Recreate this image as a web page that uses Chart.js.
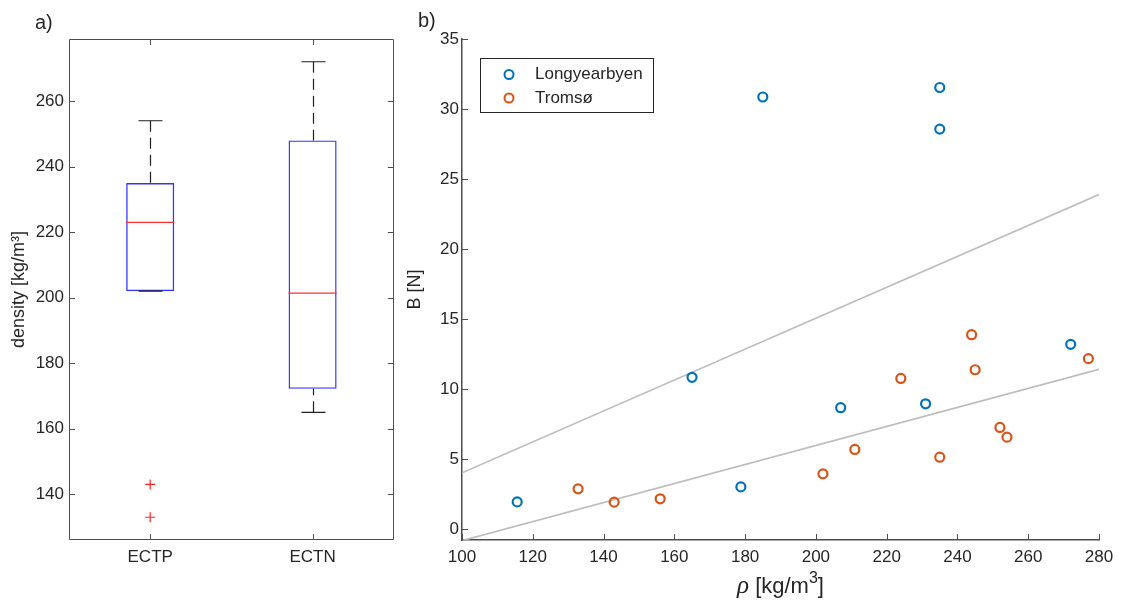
<!DOCTYPE html>
<html>
<head>
<meta charset="utf-8">
<script src="https://cdn.jsdelivr.net/npm/chart.js@4.4.0/dist/chart.umd.min.js"></script>
<style>
  body { margin: 0; background: #fff; }
  #wrap { position: relative; width: 1123px; height: 603px; font-family: 'Liberation Sans', Arial, sans-serif; color: #262626; }
  canvas { position: absolute; top: 0; }
  #boxCanvas { left: 0; }
  #scatterCanvas { left: 400px; }
  .tag { position: absolute; font-size: 20px; line-height: 20px; }
</style>
</head>
<body>
<div id="wrap">
  <canvas id="boxCanvas" width="400" height="603"></canvas>
  <canvas id="scatterCanvas" width="723" height="603"></canvas>
  <div class="tag" style="left:35px;top:12px">a)</div>
  <div class="tag" style="left:418px;top:10px">b)</div>
</div>
<script>
// a) density per test result
const categories = ['ECTP', 'ECTN'];
const q1 = [202, 172.2];
const medians = [223, 201.4];
const q3 = [235, 248];
const whiskerLow = [202, 165];
const whiskerHigh = [254, 272];
const outliers = [[143, 133], []];
const densityTicks = [140, 160, 180, 200, 220, 240, 260];

// b) B against density, per site
const rhoLongyearbyen = [115.6, 165, 178.8, 185, 207, 231, 235, 235, 272];
const bLongyearbyen = [1.97, 10.86, 3.04, 30.86, 8.69, 8.97, 31.54, 28.57, 13.21];
const rhoTromso = [132.8, 143, 156, 202, 211, 224, 235, 244, 245, 252, 254, 277];
const bTromso = [2.9, 1.95, 2.19, 3.97, 5.71, 10.78, 5.16, 13.9, 11.4, 7.28, 6.59, 12.19];
const fitRho = [100, 280];
const fitUpper = [4.04, 23.9];
const fitLower = [-0.8, 11.43];
const rhoTicks = [100, 120, 140, 160, 180, 200, 220, 240, 260, 280];
const bTicks = [0, 5, 10, 15, 20, 25, 30, 35];

const ink = '#262626';
const blue = '#0072BD';
const orange = '#D95319';

Chart.defaults.font.family = "'Liberation Sans', Arial, sans-serif";
Chart.defaults.color = ink;
Chart.defaults.animation = false;

// tick marks pointing into the plot, optional full frame
const innerTicks = {
  id: 'innerTicks',
  afterDraw(chart, args, o) {
    const { ctx, chartArea: a, scales: { x, y } } = chart;
    const len = o.length || 6;
    ctx.save();
    ctx.strokeStyle = o.color;
    ctx.lineWidth = 1;
    ctx.beginPath();
    if (o.frame) ctx.rect(Math.round(a.left) + 0.5, Math.round(a.top) + 0.5, Math.round(a.width) - 1, Math.round(a.height) - 1);
    x.ticks.forEach((t, i) => {
      const px = Math.round(x.getPixelForTick(i)) + 0.5;
      ctx.moveTo(px, a.bottom); ctx.lineTo(px, a.bottom - len);
      if (o.frame) { ctx.moveTo(px, a.top); ctx.lineTo(px, a.top + len); }
    });
    y.ticks.forEach((t, i) => {
      const py = Math.round(y.getPixelForTick(i)) + 0.5;
      ctx.moveTo(a.left, py); ctx.lineTo(a.left + len, py);
      if (o.frame) { ctx.moveTo(a.right, py); ctx.lineTo(a.right - len, py); }
    });
    ctx.stroke();
    ctx.restore();
  }
};

// whiskers, caps and medians on top of the floating bars
const boxWhiskers = {
  id: 'boxWhiskers',
  afterDatasetsDraw(chart) {
    const { ctx, scales: { y } } = chart;
    const bars = chart.getDatasetMeta(0).data;
    ctx.save();
    bars.forEach((bar, i) => {
      const cx = Math.round(bar.x) + 0.5;
      const half = bar.width / 2;
      const cap = bar.width / 4;
      const yq1 = y.getPixelForValue(q1[i]);
      const yq3 = y.getPixelForValue(q3[i]);
      const ylo = y.getPixelForValue(whiskerLow[i]);
      const yhi = y.getPixelForValue(whiskerHigh[i]);
      ctx.strokeStyle = '#1f1f1f';
      ctx.lineWidth = 1.2;
      ctx.setLineDash([11, 6]);
      ctx.beginPath();
      ctx.moveTo(cx, yhi); ctx.lineTo(cx, yq3);
      if (ylo > yq1 + 1) { ctx.moveTo(cx, ylo); ctx.lineTo(cx, yq1); }
      ctx.stroke();
      ctx.setLineDash([]);
      ctx.beginPath();
      ctx.moveTo(cx - cap, yhi); ctx.lineTo(cx + cap, yhi);
      ctx.moveTo(cx - cap, ylo); ctx.lineTo(cx + cap, ylo);
      ctx.stroke();
      const ym = y.getPixelForValue(medians[i]);
      ctx.strokeStyle = '#ff3030';
      ctx.beginPath();
      ctx.moveTo(bar.x - half, ym); ctx.lineTo(bar.x + half, ym);
      ctx.stroke();
    });
    ctx.restore();
  }
};

// legend with a box around it, inside the plot
const boxedLegend = {
  id: 'boxedLegend',
  afterDraw(chart, args, o) {
    const { ctx } = chart;
    ctx.save();
    ctx.fillStyle = '#fff';
    ctx.fillRect(o.x, o.y, o.w, o.h);
    ctx.strokeStyle = ink;
    ctx.lineWidth = 1;
    ctx.strokeRect(o.x + 0.5, o.y + 0.5, o.w, o.h);
    ctx.font = "17px 'Liberation Sans', Arial, sans-serif";
    ctx.textBaseline = 'middle';
    chart.data.datasets.filter(d => !d.showLine).forEach((d, i) => {
      const cy = o.y + 16.5 + i * 23.5;
      ctx.strokeStyle = d.borderColor;
      ctx.lineWidth = 2;
      ctx.beginPath();
      ctx.arc(o.x + 29, cy, 4.5, 0, Math.PI * 2);
      ctx.stroke();
      ctx.fillStyle = ink;
      ctx.fillText(d.label, o.x + 55, cy);
    });
    ctx.restore();
  }
};

// x title with an italic rho and a raised exponent
const rhoTitle = {
  id: 'rhoTitle',
  afterDraw(chart) {
    const { ctx, chartArea: a } = chart;
    const parts = [
      { t: 'ρ', f: "italic 25px 'Liberation Serif', serif", dy: 0 },
      { t: ' [kg/m', f: "22px 'Liberation Sans', Arial, sans-serif", dy: 0 },
      { t: '3', f: "16px 'Liberation Sans', Arial, sans-serif", dy: -10 },
      { t: ']', f: "22px 'Liberation Sans', Arial, sans-serif", dy: 0 }
    ];
    ctx.save();
    ctx.fillStyle = ink;
    ctx.textBaseline = 'alphabetic';
    let total = 0;
    parts.forEach(p => { ctx.font = p.f; p.w = ctx.measureText(p.t).width; total += p.w; });
    let px = (a.left + a.right) / 2 - total / 2;
    parts.forEach(p => { ctx.font = p.f; ctx.fillText(p.t, px, 593 + p.dy); px += p.w; });
    ctx.restore();
  }
};

new Chart(document.getElementById('boxCanvas'), {
  type: 'bar',
  data: {
    labels: categories,
    datasets: [
      {
        data: categories.map((c, i) => [q1[i], q3[i]]),
        backgroundColor: 'rgba(0,0,0,0)',
        borderColor: '#3333ff',
        borderWidth: 1.4,
        borderSkipped: false,
        barPercentage: 0.296,
        categoryPercentage: 1
      },
      {
        type: 'scatter',
        data: categories.flatMap((c, i) => outliers[i].map(v => ({ x: c, y: v }))),
        pointStyle: 'cross',
        pointRadius: 5,
        borderColor: '#ff2020',
        borderWidth: 1.2
      }
    ]
  },
  options: {
    responsive: false,
    layout: { padding: { left: 0, top: 39, right: 5, bottom: 0 } },
    plugins: {
      legend: { display: false },
      tooltip: { enabled: false },
      innerTicks: { color: '#4d4d4d', frame: true, length: 6 }
    },
    scales: {
      x: {
        grid: { display: false, drawTicks: false },
        border: { display: false },
        ticks: { font: { size: 17 }, padding: 7, color: ink },
        afterFit: s => { s.height = 63; }
      },
      y: {
        min: 126.05,
        max: 278.95,
        afterBuildTicks: s => { s.ticks = densityTicks.map(value => ({ value })); },
        grid: { display: false, drawTicks: false },
        border: { display: false },
        ticks: { font: { size: 17 }, padding: 5, color: ink },
        title: { display: true, text: 'density [kg/m³]', font: { size: 18 }, padding: { top: 8 }, color: ink },
        afterFit: s => { s.width = 69; }
      }
    }
  },
  plugins: [boxWhiskers, innerTicks]
});

new Chart(document.getElementById('scatterCanvas'), {
  type: 'scatter',
  data: {
    datasets: [
      {
        label: 'Longyearbyen',
        data: rhoLongyearbyen.map((r, i) => ({ x: r, y: bLongyearbyen[i] })),
        borderColor: blue,
        backgroundColor: 'rgba(0,0,0,0)',
        pointRadius: 4.5,
        borderWidth: 2.2
      },
      {
        label: 'Tromsø',
        data: rhoTromso.map((r, i) => ({ x: r, y: bTromso[i] })),
        borderColor: orange,
        backgroundColor: 'rgba(0,0,0,0)',
        pointRadius: 4.5,
        borderWidth: 2.2
      },
      {
        data: fitRho.map((r, i) => ({ x: r, y: fitUpper[i] })),
        showLine: true,
        borderColor: '#bdbdbd',
        borderWidth: 1.6,
        pointRadius: 0
      },
      {
        data: fitRho.map((r, i) => ({ x: r, y: fitLower[i] })),
        showLine: true,
        borderColor: '#bdbdbd',
        borderWidth: 1.6,
        pointRadius: 0
      }
    ]
  },
  options: {
    responsive: false,
    layout: { padding: { left: 0, top: 39, right: 24, bottom: 0 } },
    plugins: {
      legend: { display: false },
      tooltip: { enabled: false },
      innerTicks: { color: '#4d4d4d', frame: false, length: 6 },
      boxedLegend: { x: 80, y: 58, w: 173, h: 54 }
    },
    scales: {
      x: {
        type: 'linear',
        min: 100,
        max: 280,
        afterBuildTicks: s => { s.ticks = rhoTicks.map(value => ({ value })); },
        grid: { display: false, drawTicks: false },
        border: { display: true, color: '#4d4d4d', width: 1.5 },
        ticks: { font: { size: 17 }, padding: 7, color: ink },
        afterFit: s => { s.height = 63; }
      },
      y: {
        min: -0.75,
        max: 35,
        afterBuildTicks: s => { s.ticks = bTicks.map(value => ({ value })); },
        grid: { display: false, drawTicks: false },
        border: { display: true, color: '#4d4d4d', width: 1.5 },
        ticks: { font: { size: 17 }, padding: 3, color: ink },
        title: { display: true, text: 'B [N]', font: { size: 18 }, padding: { top: 4 }, color: ink },
        afterFit: s => { s.width = 62; }
      }
    }
  },
  plugins: [innerTicks, boxedLegend, rhoTitle]
});
</script>
</body>
</html>
